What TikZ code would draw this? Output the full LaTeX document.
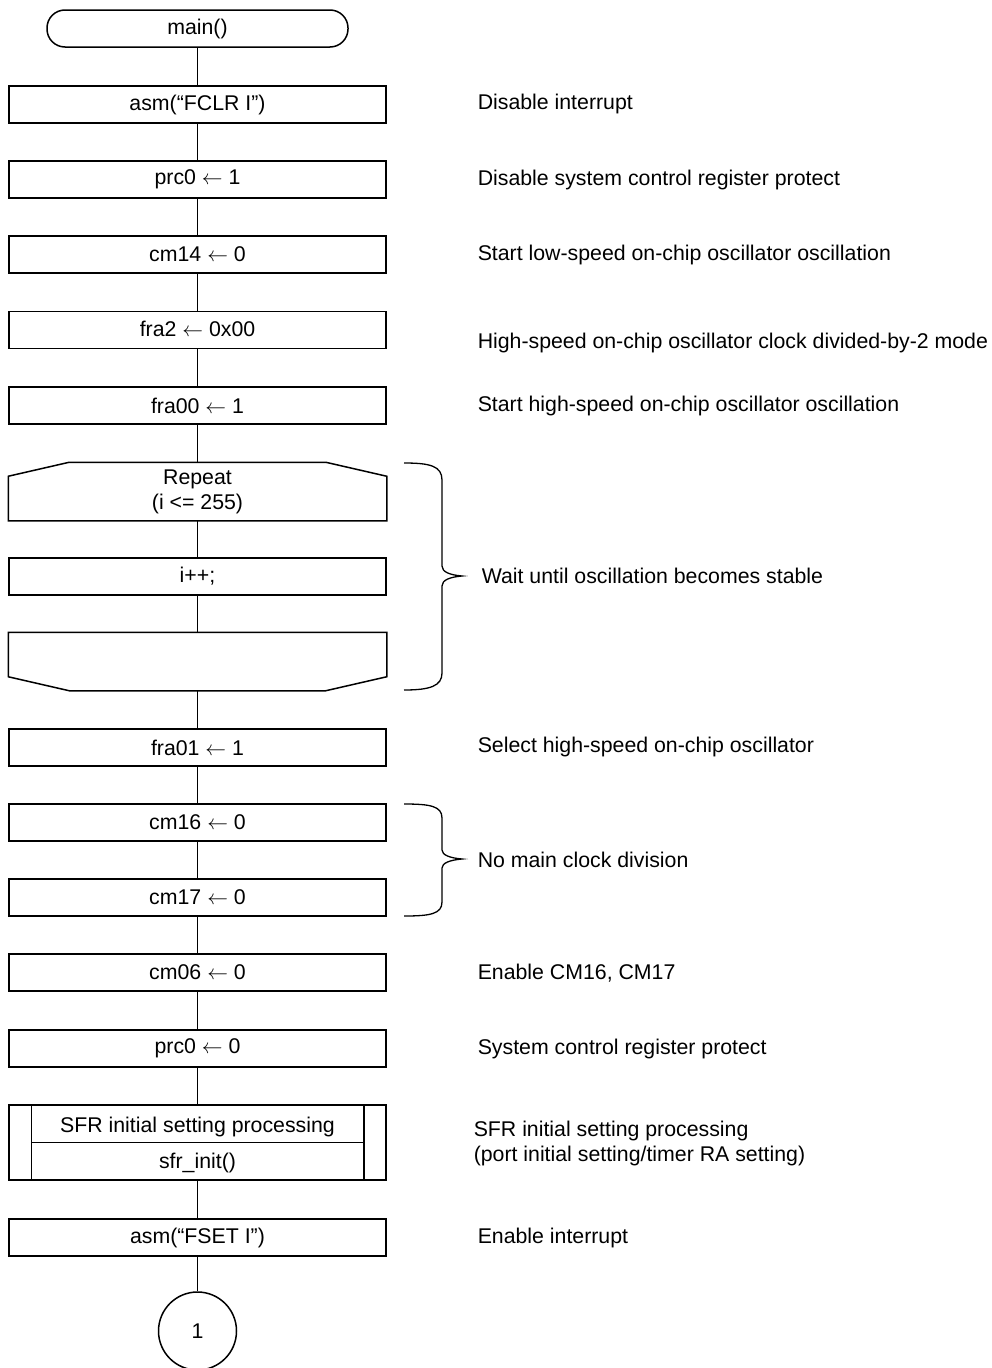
\documentclass[tikz,border=0pt]{standalone}
\usepackage{fontspec}
\setmainfont{Liberation Sans}
\usetikzlibrary{calc}
\newcommand{\larr}{\ $\leftarrow$\ }
\begin{document}
\begin{tikzpicture}[x=1pt,y=-1pt,
  every node/.style={font=\fontsize{21.3}{24}\selectfont, inner sep=0pt},
  line width=1.5pt,
  proc/.style={draw, rectangle, minimum width=377pt, minimum height=37pt},
  loopbox/.style={rectangle, minimum width=377pt, minimum height=57pt, align=center},
  conn/.style={draw, circle, minimum size=78pt},
  note/.style={anchor=west, align=left},
  bracepath/.style={line width=1.3pt}
]
\useasboundingbox (0,0) rectangle (992,1368);
% terminal
\node[draw, rectangle, rounded corners=18pt, minimum width=301pt, minimum height=37pt] (main) at (197.5,28.5) {main()};
\node[proc] (fclr) at (197.5,104.5) {asm(“FCLR I”)};
\node[proc] (prcA) at (197.5,179.5) {prc0\larr 1};
\node[proc] (cmA) at (197.5,254.5) {cm14\larr 0};
\node[proc] (fraA) at (197.5,330) {\raisebox{2pt}{fra2\larr 0x00}};
\node[proc] (fraB) at (197.5,405.5) {fra00\larr 1};
\node[loopbox] (rep) at (197.5,491.5) {Repeat\\[1pt](i <= 255)};
\draw ($(rep.north west)+(0,14)$) -- ($(rep.north west)+(61,0)$) -- ($(rep.north east)+(-61,0)$) -- ($(rep.north east)+(0,14)$) -- (rep.south east) -- (rep.south west) -- cycle;
\node[proc] (inc) at (197.5,576.5) {i++;};
\node[loopbox] (lend) at (197.5,661.5) {};
\draw (lend.north west) -- (lend.north east) -- ($(lend.south east)+(0,-14)$) -- ($(lend.south east)+(-61,0)$) -- ($(lend.south west)+(61,0)$) -- ($(lend.south west)+(0,-14)$) -- cycle;
\node[proc] (fraC) at (197.5,747.5) {fra01\larr 1};
\node[proc] (cmB) at (197.5,822.5) {cm16\larr 0};
\node[proc] (cmC) at (197.5,897.5) {cm17\larr 0};
\node[proc] (cmD) at (197.5,972.5) {cm06\larr 0};
\node[proc] (prcB) at (197.5,1048.5) {prc0\larr 0};
\node[draw, rectangle, minimum width=377pt, minimum height=75pt] (sfr) at (197.5,1142.5) {};
\draw ($(sfr.north west)+(23,0)$) -- ($(sfr.south west)+(23,0)$);
\draw ($(sfr.north east)+(-23,0)$) -- ($(sfr.south east)+(-23,0)$);
\draw ($(sfr.west)+(23,0)$) -- ($(sfr.east)+(-23,0)$);
\node (sfrA) at (197.5,1127) {SFR initial setting processing};
\node (sfrB) at (197.5,1163) {sfr\_init()};
\node[proc] (fset) at (197.5,1237.5) {asm(“FSET I”)};
\node[conn] (c1) at (197.5,1331) {1};
% connectors
\draw (main) -- (fclr);
\draw (fclr) -- (prcA);
\draw (prcA) -- (cmA);
\draw (cmA) -- (fraA);
\draw (fraA) -- (fraB);
\draw (fraB) -- (rep.north);
\draw (rep) -- (inc);
\draw (inc) -- (lend);
\draw (lend.south) -- (fraC);
\draw (fraC) -- (cmB);
\draw (cmB) -- (cmC);
\draw (cmC) -- (cmD);
\draw (cmD) -- (prcB);
\draw (prcB) -- (sfr);
\draw (sfr) -- (fset);
\draw (fset) -- (c1);
% braces
\draw[bracepath] (404,463) .. controls (430,463) and (442,466) .. (442,480) -- (442,566) .. controls (442,572) and (450,575) .. (462,576) .. controls (450,577) and (442,580) .. (442,586) -- (442,673) .. controls (442,686) and (430,690) .. (404,690);
\draw[bracepath] (404,804) .. controls (430,804) and (442,806) .. (442,818) -- (442,850) .. controls (442,855) and (450,858) .. (462,859) .. controls (450,860) and (442,863) .. (442,868) -- (442,902) .. controls (442,914) and (430,916) .. (404,916);
% notes
\node[note] (n1) at (477,104) {Disable interrupt};
\node[note] (n2) at (477,180) {Disable system control register protect};
\node[note] (n3) at (477,255) {Start low-speed on-chip oscillator oscillation};
\node[note] (n4) at (477,343) {High-speed on-chip oscillator clock divided-by-2 mode};
\node[note] (n5) at (477,406) {Start high-speed on-chip oscillator oscillation};
\node[note] (n6) at (481,576) {Wait until oscillation becomes stable};
\node[note] (n7) at (477,747) {Select high-speed on-chip oscillator};
\node[note] (n8) at (477,860) {No main clock division};
\node[note] (n9) at (477,973) {Enable CM16, CM17};
\node[note] (n10) at (477,1049) {System control register protect};
\node[note] (n11) at (473,1143) {SFR initial setting processing\\[1pt](port initial setting/timer RA setting)};
\node[note] (n12) at (477,1238) {Enable interrupt};
\end{tikzpicture}
\end{document}
